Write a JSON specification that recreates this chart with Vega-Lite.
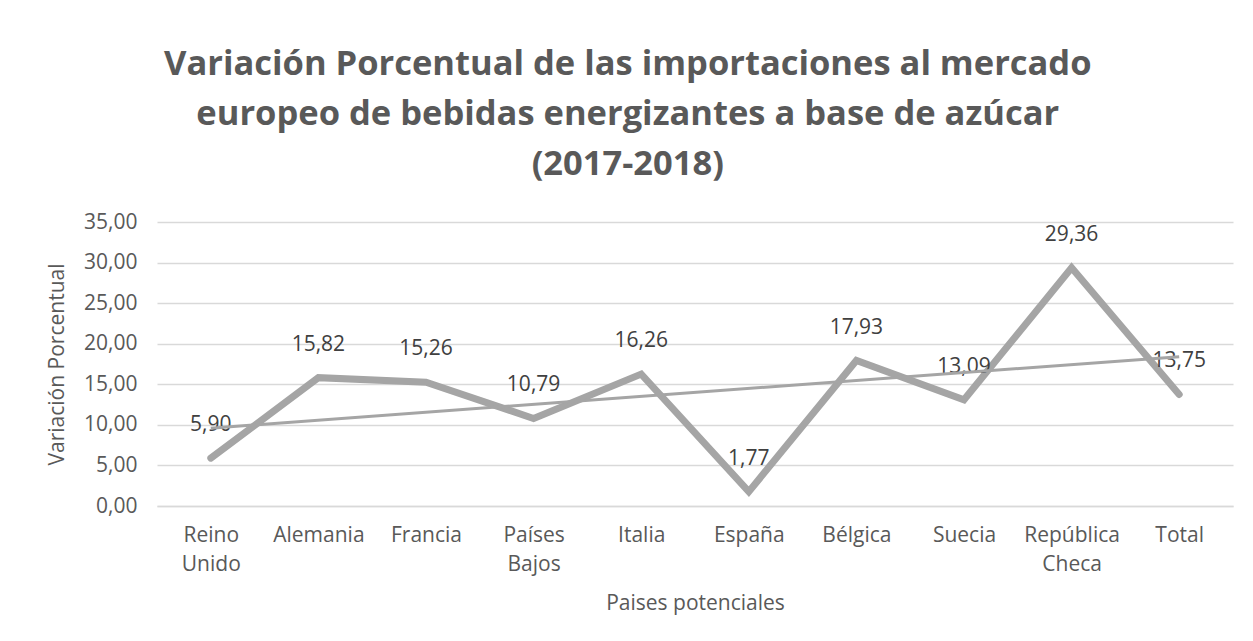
{
  "$schema": "https://vega.github.io/schema/vega-lite/v6.json",
  "width": 1076,
  "height": 284,
  "autosize": {"type": "none"},
  "padding": {"left": 157, "top": 222, "right": 20, "bottom": 135},
  "background": "white",
  "config": {
    "locale": {"number": {"decimal": ",", "thousands": ".", "grouping": [3], "currency": ["", " €"]}},
    "font": "Open Sans",
    "view": {"stroke": null}
  },
  "title": {
    "text": ["Variación Porcentual de las importaciones al mercado", "europeo de bebidas energizantes a base de azúcar", "(2017-2018)"],
    "fontSize": 34.5,
    "fontWeight": "bold",
    "color": "#595959",
    "lineHeight": 50,
    "anchor": "middle",
    "frame": "bounds",
    "offset": 29,
    "dx": -12
  },
  "data": {
    "values": [
      {"pais": "Reino Unido", "idx": 1, "valor": 5.90},
      {"pais": "Alemania", "idx": 2, "valor": 15.82},
      {"pais": "Francia", "idx": 3, "valor": 15.26},
      {"pais": "Países Bajos", "idx": 4, "valor": 10.79},
      {"pais": "Italia", "idx": 5, "valor": 16.26},
      {"pais": "España", "idx": 6, "valor": 1.77},
      {"pais": "Bélgica", "idx": 7, "valor": 17.93},
      {"pais": "Suecia", "idx": 8, "valor": 13.09},
      {"pais": "República Checa", "idx": 9, "valor": 29.36},
      {"pais": "Total", "idx": 10, "valor": 13.75}
    ]
  },
  "layer": [
    {
      "mark": {"type": "line", "color": "#a5a5a5", "strokeWidth": 7, "strokeCap": "round", "strokeJoin": "miter"},
      "encoding": {
        "x": {
          "field": "pais", "type": "nominal", "sort": null,
          "scale": {"type": "point", "padding": 0.5},
          "axis": {
            "title": "Paises potenciales",
            "titleFontSize": 21, "titleFontWeight": "normal", "titleColor": "#595959", "titlePadding": 18,
            "labelAngle": 0, "labelFontSize": 21, "labelColor": "#595959", "labelPadding": 18,
            "labelLineHeight": 29, "labelExpr": "split(datum.label, ' ')",
            "ticks": false, "domainColor": "#d9d9d9", "domainWidth": 1.5, "grid": false
          }
        },
        "y": {
          "field": "valor", "type": "quantitative",
          "scale": {"domain": [0, 35], "nice": false},
          "axis": {
            "title": "Variación Porcentual",
            "titleFontSize": 21, "titleFontWeight": "normal", "titleColor": "#595959", "titlePadding": 16,
            "values": [0, 5, 10, 15, 20, 25, 30, 35], "format": ".2f",
            "labelFontSize": 21, "labelColor": "#595959", "labelPadding": 20,
            "ticks": false, "domain": false, "gridColor": "#d9d9d9", "gridWidth": 1.5
          }
        }
      }
    },
    {
      "mark": {"type": "text", "fontSize": 21, "color": "#404040", "dy": -33, "baseline": "middle"},
      "encoding": {
        "x": {"field": "pais", "type": "nominal", "sort": null, "scale": {"type": "point", "padding": 0.5}, "axis": null},
        "y": {"field": "valor", "type": "quantitative"},
        "text": {"field": "valor", "type": "quantitative", "format": ".2f"}
      }
    },
    {
      "transform": [{"regression": "valor", "on": "idx"}],
      "mark": {"type": "line", "color": "#a5a5a5", "strokeWidth": 3},
      "encoding": {
        "x": {"field": "idx", "type": "quantitative", "scale": {"domain": [0.5, 10.5], "nice": false, "zero": false}, "axis": null},
        "y": {"field": "valor", "type": "quantitative"}
      }
    }
  ],
  "resolve": {"scale": {"x": "independent"}}
}
